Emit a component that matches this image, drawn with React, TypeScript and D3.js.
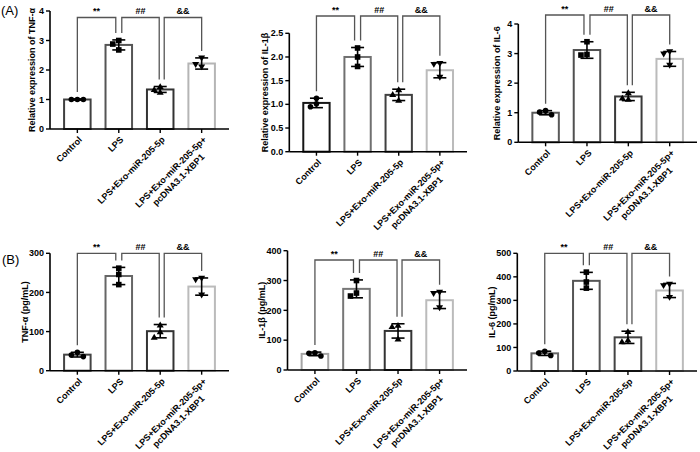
import React from "react";
import * as d3 from "d3";

// ---------- data ----------
const categories = ["Control", "LPS", "LPS+Exo-miR-205-5p", "LPS+Exo-miR-205-5p+|pcDNA3.1-XBP1"];
const sigLabels = ["**", "##", "&&"];

const tnfRelMean = [1.0, 2.85, 1.34, 2.22];
const tnfRelErr = [0.02, 0.17, 0.1, 0.19];
const tnfRelPoints = [[1.0, 1.0, 1.0], [3.0, 2.88, 2.68], [1.44, 1.34, 1.25], [2.4, 2.1, 2.18]];

const il1bRelMean = [1.03, 2.0, 1.2, 1.72];
const il1bRelErr = [0.1, 0.2, 0.12, 0.16];
const il1bRelPoints = [[1.13, 1.01, 0.95], [2.19, 2.0, 1.8], [1.31, 1.21, 1.09], [1.86, 1.84, 1.57]];

const il6RelMean = [1.0, 3.12, 1.55, 2.82];
const il6RelErr = [0.07, 0.28, 0.14, 0.25];
const il6RelPoints = [[1.07, 1.02, 0.93], [3.4, 2.97, 2.95], [1.68, 1.5, 1.46], [3.06, 2.98, 2.6]];

const tnfPgMean = [41, 242, 101, 215];
const tnfPgErr = [6, 22, 17, 22];
const tnfPgPoints = [[47, 40, 36], [262, 246, 220], [117, 100, 86], [236, 232, 193]];

const il1bPgMean = [54, 272, 131, 234];
const il1bPgErr = [6, 30, 24, 28];
const il1bPgPoints = [[58, 56, 47], [300, 258, 248], [150, 146, 104], [260, 256, 208]];

const il6PgMean = [75, 383, 143, 342];
const il6PgErr = [9, 36, 26, 30];
const il6PgPoints = [[84, 76, 66], [420, 378, 352], [168, 132, 125], [368, 362, 312]];

const ticksA1 = [0, 1, 2, 3, 4];
const ticksA2 = [0, 0.5, 1.0, 1.5, 2.0, 2.5];
const ticksA3 = [0, 1, 2, 3, 4];
const ticksB1 = [0, 100, 200, 300];
const ticksB2 = [0, 100, 200, 300, 400];
const ticksB3 = [0, 100, 200, 300, 400, 500];

// ---------- layout ----------
type Panel = {
  mean: number[]; err: number[]; points: number[][]; ticks: number[]; fmt: (v: number) => string;
  title: string; x0: number; xr: number; y0: number; yTop: number; bracketY: number; titleX: number;
  colors: string[];
};

const panels: Panel[] = [
  { mean: tnfRelMean, err: tnfRelErr, points: tnfRelPoints, ticks: ticksA1, fmt: d3.format("d"),
    title: "Relative expression of TNF-α", x0: 50, xr: 229, y0: 129, yTop: 11, bracketY: 17.5, titleX: 32,
    colors: ["#404040", "#555555", "#333333", "#b5b5b5"] },
  { mean: il1bRelMean, err: il1bRelErr, points: il1bRelPoints, ticks: ticksA2, fmt: d3.format(".1f"),
    title: "Relative expression of IL-1β", x0: 289.3, xr: 467, y0: 151.7, yTop: 33.3, bracketY: 16, titleX: 265,
    colors: ["#151515", "#707070", "#404040", "#bbbbbb"] },
  { mean: il6RelMean, err: il6RelErr, points: il6RelPoints, ticks: ticksA3, fmt: d3.format("d"),
    title: "Relative expression of IL-6", x0: 518.3, xr: 697, y0: 142.3, yTop: 24, bracketY: 15, titleX: 497,
    colors: ["#5a5a5a", "#505050", "#3a3a3a", "#bbbbbb"] },
  { mean: tnfPgMean, err: tnfPgErr, points: tnfPgPoints, ticks: ticksB1, fmt: d3.format("d"),
    title: "TNF-α (pg/mL)", x0: 50, xr: 229, y0: 370.7, yTop: 253.3, bracketY: 253.3, titleX: 25,
    colors: ["#444444", "#666666", "#333333", "#bbbbbb"] },
  { mean: il1bPgMean, err: il1bPgErr, points: il1bPgPoints, ticks: ticksB2, fmt: d3.format("d"),
    title: "IL-1β (pg/mL)", x0: 287.5, xr: 467, y0: 370, yTop: 250.7, bracketY: 260, titleX: 262,
    colors: ["#a5a5a5", "#777777", "#333333", "#bbbbbb"] },
  { mean: il6PgMean, err: il6PgErr, points: il6PgPoints, ticks: ticksB3, fmt: d3.format("d"),
    title: "IL-6 (pg/mL)", x0: 517.3, xr: 697, y0: 371, yTop: 253.3, bracketY: 253.3, titleX: 492,
    colors: ["#666666", "#555555", "#444444", "#bbbbbb"] },
];

const FONT = "Arial, 'Liberation Sans', Helvetica, sans-serif";

function marker(shape: number, x: number, y: number, key: string) {
  if (shape === 0) return <circle key={key} cx={x} cy={y} r={2.8} fill="#000" />;
  if (shape === 1) return <rect key={key} x={x - 2.8} y={y - 2.8} width={5.6} height={5.6} fill="#000" />;
  if (shape === 2) return <path key={key} d={`M${x},${y - 3.3}L${x + 3.5},${y + 2.6}L${x - 3.5},${y + 2.6}Z`} fill="#000" />;
  return <path key={key} d={`M${x},${y + 3.3}L${x + 3.5},${y - 2.6}L${x - 3.5},${y - 2.6}Z`} fill="#000" />;
}

function spread(ys: number[]): number[] {
  const placed: { x: number; y: number }[] = [];
  const offs = [0, -6, 6, -12, 12];
  return ys.map((y) => {
    for (const o of offs) {
      if (placed.every((p) => Math.hypot(p.x - o, p.y - y) >= 5.5)) {
        placed.push({ x: o, y });
        return o;
      }
    }
    placed.push({ x: 0, y });
    return 0;
  });
}

function ChartPanel({ p, idx }: { p: Panel; idx: number }) {
  const x = d3.scaleBand<string>().domain(categories).range([p.x0, p.xr]).paddingInner(0.36).paddingOuter(0.34);
  const yMax = p.ticks[p.ticks.length - 1];
  const y = d3.scaleLinear().domain([0, yMax]).range([p.y0, p.yTop]);
  const bw = x.bandwidth();
  const cx = (i: number) => (x(categories[i]) as number) + bw / 2;
  const legBottom = (i: number) => y(p.mean[i] + p.err[i]) - 7;
  const brackets = [
    { a: cx(0), b: cx(1) - 3, ia: 0, ib: 1 },
    { a: cx(1) + 3, b: cx(2) - 1, ia: 1, ib: 2 },
    { a: cx(2) + 4, b: cx(3), ia: 2, ib: 3 },
  ];
  return (
    <g key={idx}>
      {/* bars */}
      {p.mean.map((m, i) => (
        <rect key={"b" + i} x={x(categories[i])} y={y(m)} width={bw} height={p.y0 - y(m)}
          fill="#fff" stroke={p.colors[i]} strokeWidth={2} />
      ))}
      {/* error bars */}
      {p.mean.map((m, i) => {
        const c = cx(i);
        const t = y(m + p.err[i]);
        const b = y(m - p.err[i]);
        return (
          <g key={"e" + i} stroke="#000" strokeWidth={1.6}>
            <line x1={c} x2={c} y1={t} y2={b} />
            <line x1={c - 6.5} x2={c + 6.5} y1={t} y2={t} />
            <line x1={c - 6.5} x2={c + 6.5} y1={b} y2={b} />
          </g>
        );
      })}
      {/* points */}
      {p.points.map((pts, i) => {
        const ys = pts.map((v) => y(v));
        const offs = spread(ys);
        return <g key={"p" + i}>{ys.map((yy, j) => marker(i, cx(i) + offs[j], yy, `m${i}-${j}`))}</g>;
      })}
      {/* axes */}
      <line x1={p.x0} x2={p.x0} y1={p.yTop} y2={p.y0} stroke="#000" strokeWidth={1.6} />
      <line x1={p.x0} x2={p.xr} y1={p.y0} y2={p.y0} stroke="#000" strokeWidth={1.6} />
      {p.ticks.map((t) => (
        <g key={"t" + t}>
          <line x1={p.x0 - 4} x2={p.x0} y1={y(t)} y2={y(t)} stroke="#000" strokeWidth={1.4} />
          <text x={p.x0 - 6} y={y(t)} dy="0.35em" textAnchor="end" fontSize={9} fontWeight="bold" fontFamily={FONT}>
            {p.fmt(t)}
          </text>
        </g>
      ))}
      {categories.map((c, i) => {
        const lines = c.split("|");
        const xc = cx(i);
        return (
          <g key={"x" + i}>
            <line x1={xc} x2={xc} y1={p.y0} y2={p.y0 + 4} stroke="#000" strokeWidth={1.4} />
            <g transform={`translate(${xc + 3},${p.y0 + 9}) rotate(-45)`}>
              {lines.length === 1 ? (
                <text x={0} y={0} dy="0.35em" textAnchor="end" fontSize={9} fontWeight="bold" fontFamily={FONT}>{c}</text>
              ) : (
                lines.map((l, k) => (
                  <text key={k} x={-48} y={k * 11} dy="0.35em" textAnchor="middle" fontSize={9} fontWeight="bold" fontFamily={FONT}>{l}</text>
                ))
              )}
            </g>
          </g>
        );
      })}
      {/* y title */}
      <text transform={`translate(${p.titleX},${(p.y0 + p.yTop) / 2}) rotate(-90)`} dy="0.35em" textAnchor="middle"
        fontSize={9} fontWeight="bold" fontFamily={FONT}>{p.title}</text>
      {/* significance brackets */}
      {brackets.map((br, k) => (
        <g key={"s" + k}>
          <path d={`M${br.a},${legBottom(br.ia)}V${p.bracketY}H${br.b}V${legBottom(br.ib)}`} fill="none" stroke="#555" strokeWidth={1.3} />
          <text x={(br.a + br.b) / 2} y={p.bracketY - 3.5} textAnchor="middle" fontSize={9} fontWeight="bold" fontFamily={FONT}>
            {sigLabels[k]}
          </text>
        </g>
      ))}
    </g>
  );
}

export default function App() {
  return (
    <svg width={700} height={452} style={{ position: "absolute", left: 0, top: 0, background: "#fff" }}>
      <rect width={700} height={452} fill="#fff" />
      <text x={1} y={14.5} fontSize={13} fontFamily={FONT}>(A)</text>
      <text x={2} y={264} fontSize={13} fontFamily={FONT}>(B)</text>
      {panels.map((p, i) => <ChartPanel key={i} p={p} idx={i} />)}
    </svg>
  );
}
